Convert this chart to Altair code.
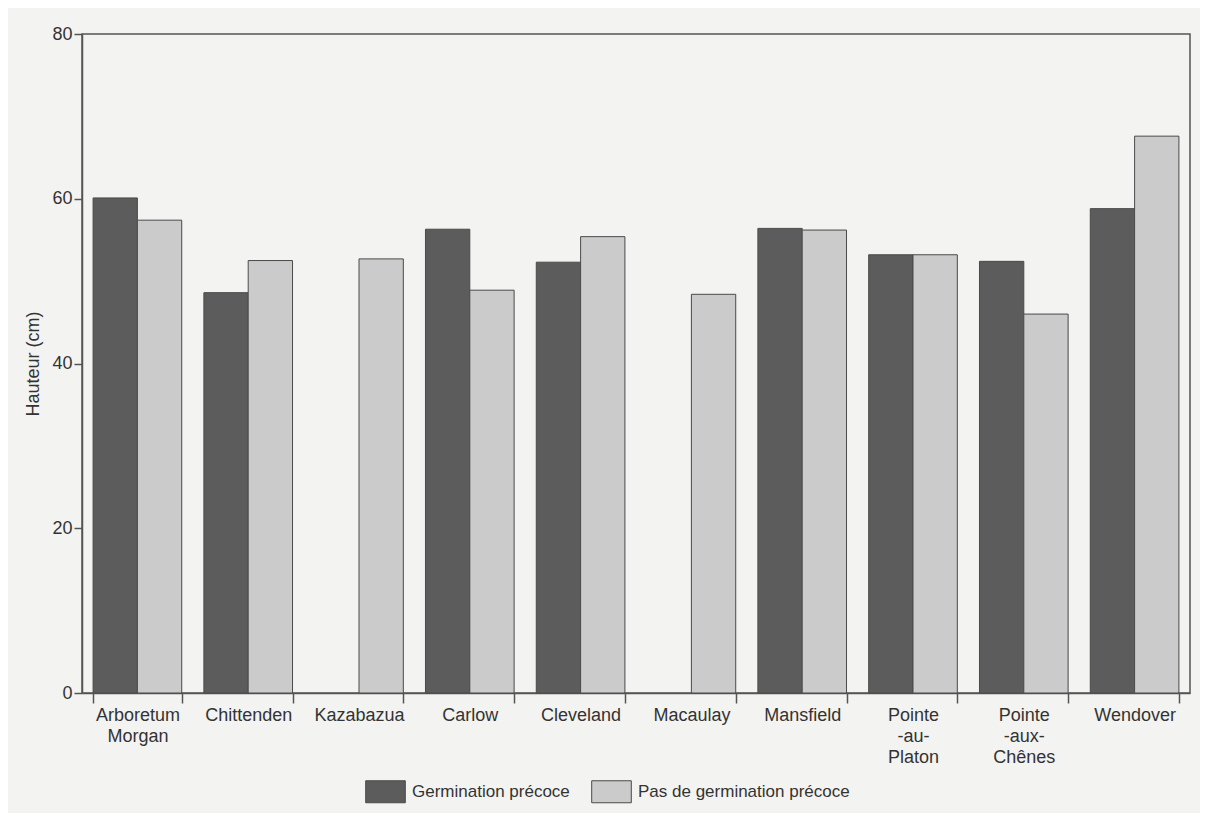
import altair as alt
import pandas as pd

sites = ["Arboretum\nMorgan", "Chittenden", "Kazabazua", "Carlow", "Cleveland",
         "Macaulay", "Mansfield", "Pointe\n-au-\nPlaton", "Pointe\n-aux-\nChênes", "Wendover"]
early = [60.1, 48.6, None, 56.3, 52.3, None, 56.4, 53.2, 52.4, 58.8]
late = [57.4, 52.5, 52.7, 48.9, 55.4, 48.4, 56.2, 53.2, 46.0, 67.6]
groups = ["Germination précoce", "Pas de germination précoce"]

rows = []
for s, e, l in zip(sites, early, late):
    if e is not None:
        rows.append({"site": s, "groupe": groups[0], "h": e})
    rows.append({"site": s, "groupe": groups[1], "h": l})
df = pd.DataFrame(rows)

font = "Liberation Sans"
chart = alt.Chart(df).mark_bar(stroke="#4a4a4a", strokeWidth=1).encode(
    x=alt.X("site:N", sort=sites, title=None,
            scale=alt.Scale(paddingInner=0.2, paddingOuter=0.1),
            axis=alt.Axis(labelAngle=0, tickBand="extent", tickSize=10,
                          labelExpr="split(datum.label, '\\n')",
                          labelLineHeight=21, labelPadding=3,
                          labelBaseline="top")),
    xOffset=alt.XOffset("groupe:N", sort=groups),
    y=alt.Y("h:Q", title="Hauteur (cm)",
            scale=alt.Scale(domain=[0, 80], nice=False),
            axis=alt.Axis(values=[0, 20, 40, 60, 80], grid=False, tickSize=8,
                          titlePadding=9)),
    color=alt.Color("groupe:N", sort=groups,
                    scale=alt.Scale(domain=groups, range=["#5c5c5c", "#cbcbcb"]),
                    legend=alt.Legend(title=None, orient="none", direction="horizontal",
                                      legendX=292, legendY=746,
                                      symbolType="M-1.8,-1L1.8,-1L1.8,1L-1.8,1Z",
                                      symbolSize=484, symbolStrokeColor="#4a4a4a",
                                      symbolStrokeWidth=1, labelFontSize=17,
                                      labelFont=font, labelColor="#333333",
                                      labelLimit=400,
                                      columnPadding=19, labelOffset=15)),
).properties(
    width=1108, height=659,
    autosize=alt.AutoSizeParams(type="none"),
    padding={"left": 74, "top": 26, "right": 10, "bottom": 120},
    background="#f3f3f1",
).configure_view(
    stroke="#555555", strokeWidth=1.5
).configure_axis(
    labelFont=font, titleFont=font, labelFontSize=18, titleFontSize=18,
    labelColor="#333333", titleColor="#333333", titleFontWeight="normal",
    domainColor="#555555", tickColor="#555555", domainWidth=1.5, tickWidth=1.5
)

chart.save("out.html", embed_options={"renderer": "svg", "actions": False})
